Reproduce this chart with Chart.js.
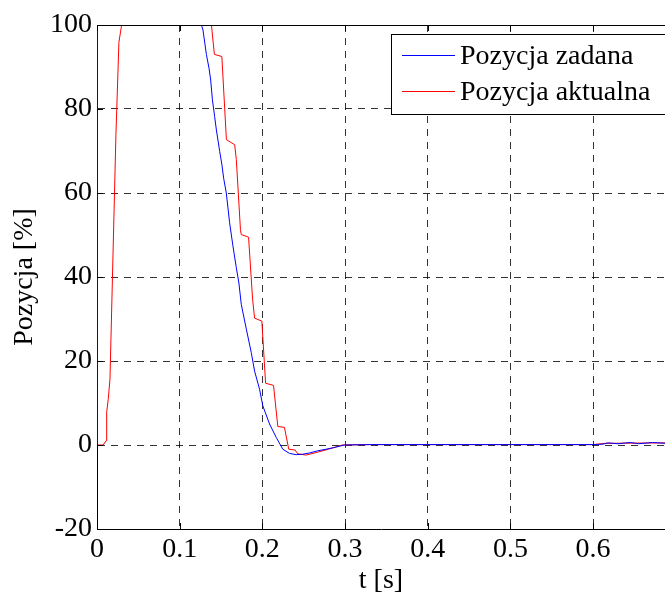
<!DOCTYPE html>
<html>
<head>
<meta charset="utf-8">
<script src="https://cdn.jsdelivr.net/npm/chart.js@4.4.1/dist/chart.umd.min.js"></script>
<style>
  body { margin: 0; background: #fff; }
</style>
</head>
<body>
<canvas id="chart" width="665" height="599"></canvas>
<script>
// tick labels
const xTicks = [0, 0.1, 0.2, 0.3, 0.4, 0.5, 0.6];
const yTicks = [-20, 0, 20, 40, 60, 80, 100];

const seriesNames = ['Pozycja zadana', 'Pozycja aktualna'];
const seriesColors = ['#0000ff', '#ff0000'];

// Pozycja zadana (blue)
const setT = [0, 0.0005, 0.1263, 0.1282, 0.1323, 0.1355, 0.1375, 0.1396, 0.1423, 0.1444, 0.1484, 0.1511,
  0.1532, 0.1564, 0.1604, 0.1644, 0.1685, 0.1716, 0.1745, 0.1806, 0.1866, 0.1906, 0.1966, 0.2006,
  0.2087, 0.2168, 0.2247, 0.2328, 0.2409, 0.2485, 0.2569, 0.2666, 0.2771, 0.287, 0.299,
  0.33, 0.4, 0.5, 0.6, 0.612, 0.618, 0.63, 0.645, 0.655, 0.672, 0.687];
const setY = [0, 100, 100, 98.8, 93, 89.7, 86.9, 82.2, 78.2, 75, 69.9, 66.7,
  63.5, 60, 52.9, 47.4, 42.2, 38.6, 33.5, 27.6, 22, 17.6, 13.3, 9.3,
  5, 1.8, -1, -2, -2.3, -2.2, -1.9, -1.4, -1, -0.6, 0,
  0.1, 0.1, 0.1, 0.1, 0.2, 0.5, 0.3, 0.6, 0.3, 0.6, 0.4];

// Pozycja aktualna (red)
const actT = [0, 0.0075, 0.011, 0.0117, 0.0136, 0.0157, 0.0229, 0.0265, 0.0298, 0.1384, 0.142, 0.151,
  0.1565, 0.1665, 0.1685, 0.1735, 0.1745, 0.1833, 0.1882, 0.1906, 0.1994, 0.2039, 0.2135, 0.2187,
  0.2267, 0.2319, 0.2396, 0.2428, 0.2529, 0.265, 0.28, 0.2967,
  0.33, 0.5, 0.6, 0.615, 0.687];
const actY = [0, 0, 1, 7.8, 10.9, 15.7, 73.9, 95.9, 100, 100, 93, 92.5,
  72.7, 71.5, 68, 51.3, 50.1, 49.5, 34.7, 30.2, 29.5, 14.7, 14.2, 4.4,
  4.2, -1, -1.2, -2.1, -2.4, -1.8, -1, 0,
  0.1, 0.1, 0.1, 0.4, 0.5];

const toPts = (ts, ys) => ts.map((t, i) => ({x: t, y: ys[i]}));

Chart.defaults.font.family = "'Liberation Serif', 'Times New Roman', serif";
Chart.defaults.color = '#000';

// MATLAB-like box: top border, inner ticks, legend
const axesBox = {
  id: 'axesBox',
  afterDraw(chart) {
    const {ctx, chartArea: a, scales: {x, y}} = chart;
    ctx.save();
    ctx.strokeStyle = '#000';
    ctx.lineWidth = 1;
    ctx.beginPath();
    ctx.moveTo(a.left, a.top + 0.5);
    ctx.lineTo(a.right, a.top + 0.5);
    xTicks.forEach(v => {
      const px = Math.round(x.getPixelForValue(v)) + 0.5;
      ctx.moveTo(px, a.bottom); ctx.lineTo(px, a.bottom - 6);
      ctx.moveTo(px, a.top); ctx.lineTo(px, a.top + 6);
    });
    yTicks.forEach(v => {
      const py = Math.round(y.getPixelForValue(v)) + 0.5;
      ctx.moveTo(a.left, py); ctx.lineTo(a.left + 6, py);
    });
    ctx.stroke();

    // legend
    ctx.fillStyle = '#fff';
    ctx.fillRect(391.5, 34.5, 300, 80);
    ctx.strokeStyle = '#000';
    ctx.strokeRect(391.5, 34.5, 300, 80);
    ctx.font = "28px 'Liberation Serif', 'Times New Roman', serif";
    ctx.textBaseline = 'middle';
    seriesNames.forEach((name, i) => {
      const ly = 55.5 + i * 36;
      ctx.beginPath();
      ctx.strokeStyle = seriesColors[i];
      ctx.moveTo(402, ly);
      ctx.lineTo(455, ly);
      ctx.stroke();
      ctx.fillStyle = '#000';
      ctx.fillText(name, 460, ly + 1);
    });
    ctx.restore();
  }
};

new Chart(document.getElementById('chart'), {
  type: 'line',
  data: {
    datasets: [
      { label: seriesNames[0], data: toPts(setT, setY), borderColor: seriesColors[0], borderWidth: 1, pointRadius: 0, tension: 0 },
      { label: seriesNames[1], data: toPts(actT, actY), borderColor: seriesColors[1], borderWidth: 1, pointRadius: 0, tension: 0 }
    ]
  },
  options: {
    responsive: false,
    animation: false,
    layout: { padding: { top: 25, right: 0, left: 0, bottom: 0 } },
    plugins: { legend: { display: false }, tooltip: { enabled: false } },
    scales: {
      x: {
        type: 'linear', min: 0, max: 0.687,
        afterBuildTicks: s => { s.ticks = xTicks.map(v => ({value: v})); },
        afterFit: s => { s.height = 70; },
        ticks: { font: { size: 28 }, padding: 4, maxRotation: 0, callback: v => String(v) },
        grid: { color: 'rgba(0,0,0,0.8)', lineWidth: 1, drawTicks: false },
        border: { color: '#000', width: 1, dash: [7, 6] },
        title: { display: true, text: 't [s]', font: { size: 28 }, padding: { top: 0, bottom: 2 } }
      },
      y: {
        min: -20, max: 100,
        afterBuildTicks: s => { s.ticks = yTicks.map(v => ({value: v})); },
        afterFit: s => { s.width = 97; },
        ticks: { font: { size: 28 }, padding: 5 },
        grid: { color: 'rgba(0,0,0,0.8)', lineWidth: 1, drawTicks: false },
        border: { color: '#000', width: 1, dash: [7, 6] },
        title: { display: true, text: 'Pozycja [%]', font: { size: 28 }, padding: { top: 8, bottom: 0 } }
      }
    }
  },
  plugins: [axesBox]
});
</script>
</body>
</html>
